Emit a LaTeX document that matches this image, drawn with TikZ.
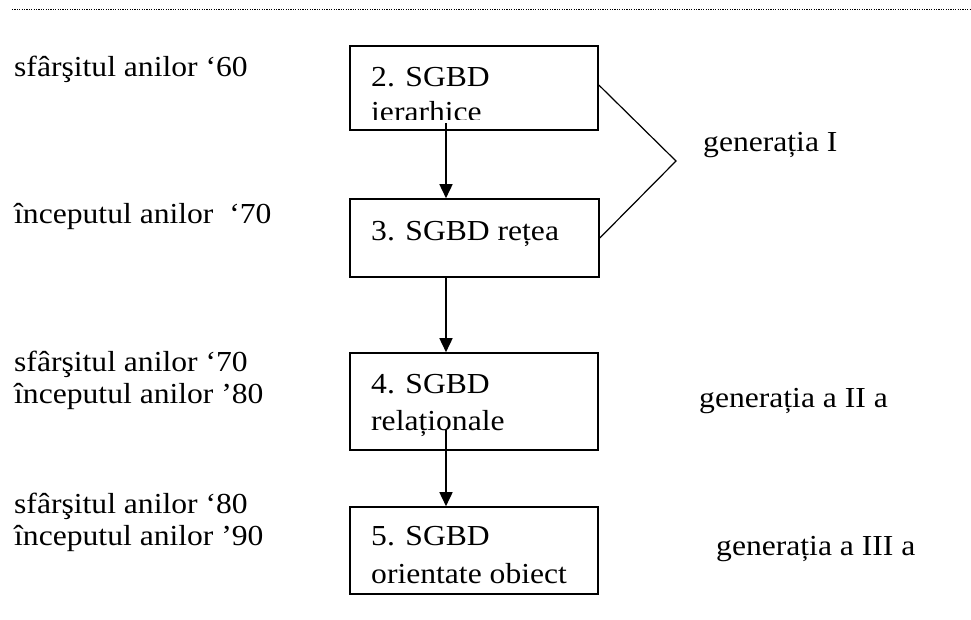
\documentclass[tikz,border=0pt]{standalone}
\usepackage{fontspec}
\setmainfont{Liberation Serif}[FakeStretch=1.09]
\usetikzlibrary{arrows.meta}
\begin{document}
\begin{tikzpicture}
        [x=1pt,y=-1pt,
        box/.style={draw,line width=1.6pt,inner sep=0pt},
        txt/.style={anchor=base west,inner sep=0pt,font=\fontsize{29}{34}\selectfont},
        arr/.style={line width=1.6pt,-{Triangle[length=14pt,width=13pt]}},
        brace/.style={line width=1.2pt}]
    \useasboundingbox (0,0) rectangle (971,619);
    \draw[line width=1pt,dash pattern=on 1.2pt off 1.2pt] (12,9) -- (971,9);
    \node[box,minimum width=248pt,minimum height=84pt] (box2) at (474,88) {};
    \node[box,minimum width=249pt,minimum height=78pt] (box3) at (474.5,238) {};
    \node[box,minimum width=248pt,minimum height=97pt] (box4) at (474,401.5) {};
    \node[box,minimum width=248pt,minimum height=87pt] (box5) at (474,550.5) {};
    \node[txt] (t2a) at (371,86) {2. SGBD};
    \begin{scope}
        \clip (350,46) rectangle (598,119.5);
        \node[txt] (t2b) at (371,121) {ierarhice};
    \end{scope}
    \node[txt] (t3) at (371,240) {3. SGBD rețea};
    \node[txt] (t4a) at (371,393) {4. SGBD};
    \node[txt] (t4b) at (371,430) {relaționale};
    \node[txt] (t5a) at (371,545) {5. SGBD};
    \node[txt] (t5b) at (371,583) {orientate obiect};
    \node[txt] (y60) at (14,76) {sfârşitul anilor ‘60};
    \node[txt] (y70) at (14,223) {începutul anilor\ \ ‘70};
    \node[txt] (y70b) at (14,371) {sfârşitul anilor ‘70};
    \node[txt] (y80) at (14,403) {începutul anilor ’80};
    \node[txt] (y80b) at (14,513) {sfârşitul anilor ‘80};
    \node[txt] (y90) at (14,545) {începutul anilor ’90};
    \node[txt] (gen1) at (703,151) {generația I};
    \node[txt] (gen2) at (699,407) {generația a II a};
    \node[txt] (gen3) at (716,555) {generația a III a};
    \coordinate (a2) at (446,123);
    \coordinate (a4) at (446,430);
    \coordinate (tip) at (676,161);
    \draw[arr] (a2) -- (a2 |- box3.north);
    \draw[arr] (box3.south -| a2) -- (a2 |- box4.north);
    \draw[arr] (a4) -- (a4 |- box5.north);
    \draw[brace] ([yshift=3pt]box2.east) -- (tip) -- (box3.east);
\end{tikzpicture}
\end{document}
